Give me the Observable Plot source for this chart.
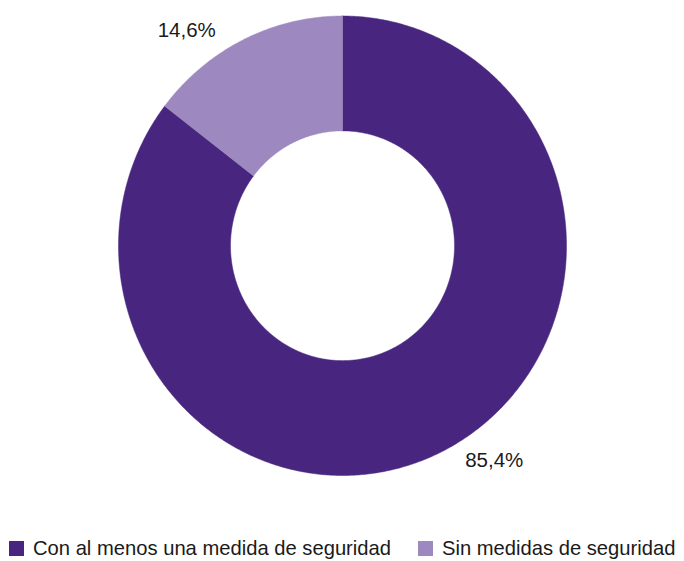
<!DOCTYPE html>
<html>
<head>
<meta charset="utf-8">
<script src="https://cdn.jsdelivr.net/npm/d3@7"></script>
<script src="https://cdn.jsdelivr.net/npm/@observablehq/plot@0.6"></script>
<style>
  html, body { margin: 0; padding: 0; background: #fff; }
  body { width: 684px; height: 561px; overflow: hidden; font-family: "Liberation Sans", Arial, Helvetica, sans-serif; }
  #legend { display: flex; align-items: center; height: 25px; padding-top: 5px; padding-left: 9px; font-size: 20.2px; color: #1a1a1a; white-space: nowrap; }
  .item { display: flex; align-items: center; margin-right: 27px; }
  .sw { width: 15px; height: 15px; margin-right: 9px; }
</style>
</head>
<body>
<div id="chart"></div>
<div id="legend"></div>
<script>
const categories = ["Con al menos una medida de seguridad", "Sin medidas de seguridad"];
const values = [85.4, 14.6];
const labels = ["85,4%", "14,6%"];
const colors = ["#48267f", "#9d88bf"];

const innerRatio = 0.5;
const labelRadius = 1.16;
const labelShift = -10 * Math.PI / 180;

const total = d3.sum(values);
const ringPts = [];
const labelPts = [];
let cum = 0;
values.forEach((v, i) => {
  const a0 = cum / total * 2 * Math.PI;
  const a1 = (cum + v) / total * 2 * Math.PI;
  cum += v;
  const n = Math.max(2, Math.ceil((a1 - a0) / (Math.PI / 360)));
  const outer = [], inner = [];
  for (let k = 0; k <= n; k++) {
    const a = a0 + (a1 - a0) * k / n;
    outer.push({cat: categories[i], x: Math.sin(a), y: Math.cos(a)});
    inner.push({cat: categories[i], x: innerRatio * Math.sin(a), y: innerRatio * Math.cos(a)});
  }
  ringPts.push(...outer, ...inner.reverse(), outer[0]);
  const am = (a0 + a1) / 2 + labelShift;
  labelPts.push({label: labels[i], x: labelRadius * Math.sin(am), y: labelRadius * Math.cos(am)});
});

const plot = Plot.plot({
  width: 684,
  height: 531,
  margin: 0,
  x: {domain: [-1, 1], range: [118, 566], axis: null},
  y: {domain: [-1, 1], range: [475, 15.5], axis: null},
  color: {domain: categories, range: colors},
  style: {fontFamily: '"Liberation Sans", Arial, Helvetica, sans-serif', background: "#fff"},
  marks: [
    Plot.line(ringPts, {x: "x", y: "y", z: "cat", fill: "cat", stroke: "cat", strokeWidth: 0.5, curve: "linear"}),
    Plot.text(labelPts, {x: "x", y: "y", text: "label", fontSize: 20.5, fill: "#1a1a1a", textAnchor: "middle", dx: -2})
  ]
});
document.getElementById("chart").appendChild(plot);

const legend = document.getElementById("legend");
categories.forEach((c, i) => {
  const item = document.createElement("div");
  item.className = "item";
  const sw = document.createElement("div");
  sw.className = "sw";
  sw.style.background = colors[i];
  const t = document.createElement("span");
  t.textContent = c;
  item.appendChild(sw);
  item.appendChild(t);
  legend.appendChild(item);
});
</script>
</body>
</html>
